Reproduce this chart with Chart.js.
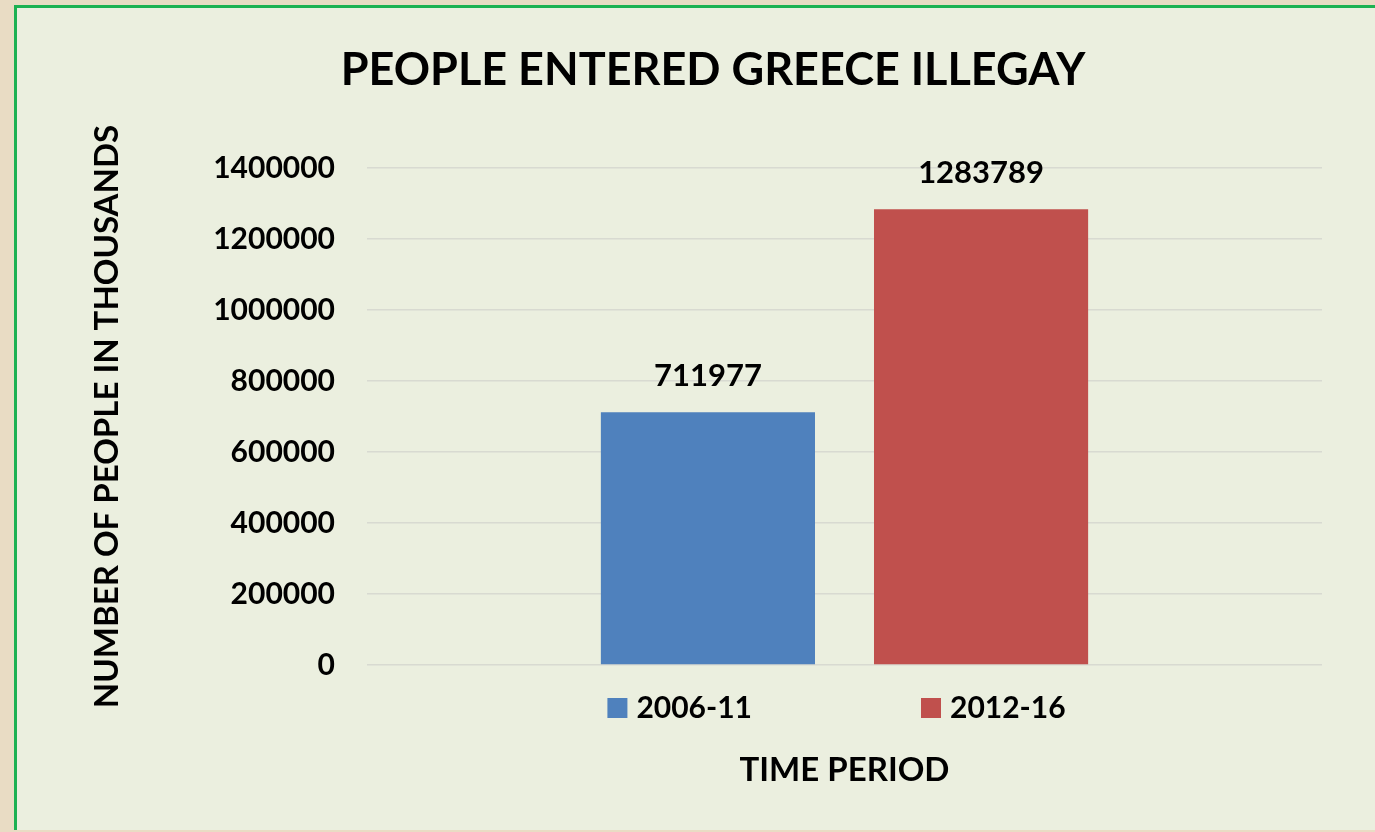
<!DOCTYPE html>
<html>
<head>
<meta charset="utf-8">
<title>People entered Greece illegay</title>
<script src="https://cdn.jsdelivr.net/npm/chart.js@4.4.1/dist/chart.umd.min.js"></script>
<style>
	html, body { margin: 0; padding: 0; width: 1375px; height: 832px; overflow: hidden; background: #e9dcc4; }
	#frame { position: absolute; left: 14px; top: 5px; width: 1420px; height: 822px; border-left: 3px solid #1db152; border-top: 3px solid #1db152; background: #ebefdf; }
	#box { position: absolute; left: 0; top: 0; width: 1392px; height: 822px; }
</style>
</head>
<body>
<div id="frame"><div id="box"><canvas id="mycanvas"></canvas></div></div>
<script>
var periods = ['2006-11', '2012-16'];
var entered = [711977, 1283789];
var periodColors = ['#4f81bd', '#c0504d'];
var yTicks = [0, 200000, 400000, 600000, 800000, 1000000, 1200000, 1400000];

Chart.defaults.font.family = 'Lato, "Open Sans", sans-serif';
Chart.defaults.font.weight = 'bold';
Chart.defaults.color = '#000';

// value written over each bar
var valueLabels = {
	id: 'valueLabels',
	afterDatasetsDraw: function(chart) {
		var ctx = chart.ctx;
		ctx.save();
		ctx.font = 'bold 31px Lato';
		ctx.fillStyle = '#000';
		ctx.textAlign = 'center';
		ctx.textBaseline = 'alphabetic';
		chart.data.datasets.forEach(function(ds, i) {
			chart.getDatasetMeta(i).data.forEach(function(bar, j) {
				ctx.fillText(ds.data[j], bar.x, bar.y - 26);
			});
		});
		ctx.restore();
	}
};

// legend row between the plot and the axis title
var bottomLegend = {
	id: 'bottomLegend',
	afterDraw: function(chart) {
		var ctx = chart.ctx;
		var area = chart.chartArea;
		var box = 20, gap = 9, space = 169;
		ctx.save();
		ctx.font = 'bold 30px Lato';
		ctx.textBaseline = 'middle';
		ctx.textAlign = 'left';
		var widths = chart.data.datasets.map(function(ds) {
			return box + gap + ctx.measureText(ds.label).width;
		});
		var total = space * (widths.length - 1);
		for (var k in widths) total += widths[k];
		var x = (area.left + area.right) / 2 - 8 - total / 2;
		var y = area.bottom + 43;
		chart.data.datasets.forEach(function(ds, i) {
			ctx.fillStyle = ds.backgroundColor;
			ctx.fillRect(x, y - box / 2, box, box);
			ctx.fillStyle = '#000';
			ctx.fillText(ds.label, x + box + gap, y);
			x += widths[i] + space;
		});
		ctx.restore();
	}
};

var datasets = [];
for (var i in periods) {
	datasets.push({
		label: periods[i],
		data: [entered[i]],
		backgroundColor: periodColors[i],
		borderWidth: 0,
		categoryPercentage: 0.572,
		barPercentage: 0.784
	});
}

var ctx = document.getElementById('mycanvas');

var barGraph = new Chart(ctx, {
	type: 'bar',
	data: {
		labels: [''],
		datasets: datasets
	},
	plugins: [valueLabels, bottomLegend],
	options: {
		responsive: true,
		maintainAspectRatio: false,
		animation: false,
		plugins: {
			legend: { display: false },
			tooltip: { enabled: false },
			title: {
				display: true,
				text: 'PEOPLE ENTERED GREECE ILLEGAY',
				color: '#000',
				font: { size: 45, weight: 'bold' },
				padding: { top: 35, bottom: 71 }
			}
		},
		scales: {
			x: {
				grid: { display: false, drawTicks: false },
				border: { display: false },
				ticks: { display: false },
				title: {
					display: true,
					text: 'TIME PERIOD',
					color: '#000',
					font: { size: 33, weight: 'bold' },
					padding: { top: 0, bottom: 40 }
				},
				afterFit: function(s) { s.height = 165; }
			},
			y: {
				min: 0,
				max: 1400000,
				grid: { color: '#d8dad1', lineWidth: 1.5, drawTicks: false },
				border: { display: false },
				ticks: {
					color: '#000',
					padding: 32,
					font: { size: 30, weight: 'bold' },
					callback: function(v) { return v; }
				},
				afterBuildTicks: function(axis) {
					axis.ticks = yTicks.map(function(v) { return { value: v }; });
				},
				title: {
					display: true,
					text: 'NUMBER OF PEOPLE IN THOUSANDS',
					color: '#000',
					font: { size: 33, weight: 'bold' },
					padding: { top: 71, bottom: 0 }
				},
				afterFit: function(s) { s.width = 350; }
			},
			y2: {
				position: 'right',
				grid: { display: false, drawTicks: false },
				border: { display: false },
				ticks: { display: false },
				afterFit: function(s) { s.width = 87; }
			}
		}
	}
});
</script>
</body>
</html>
